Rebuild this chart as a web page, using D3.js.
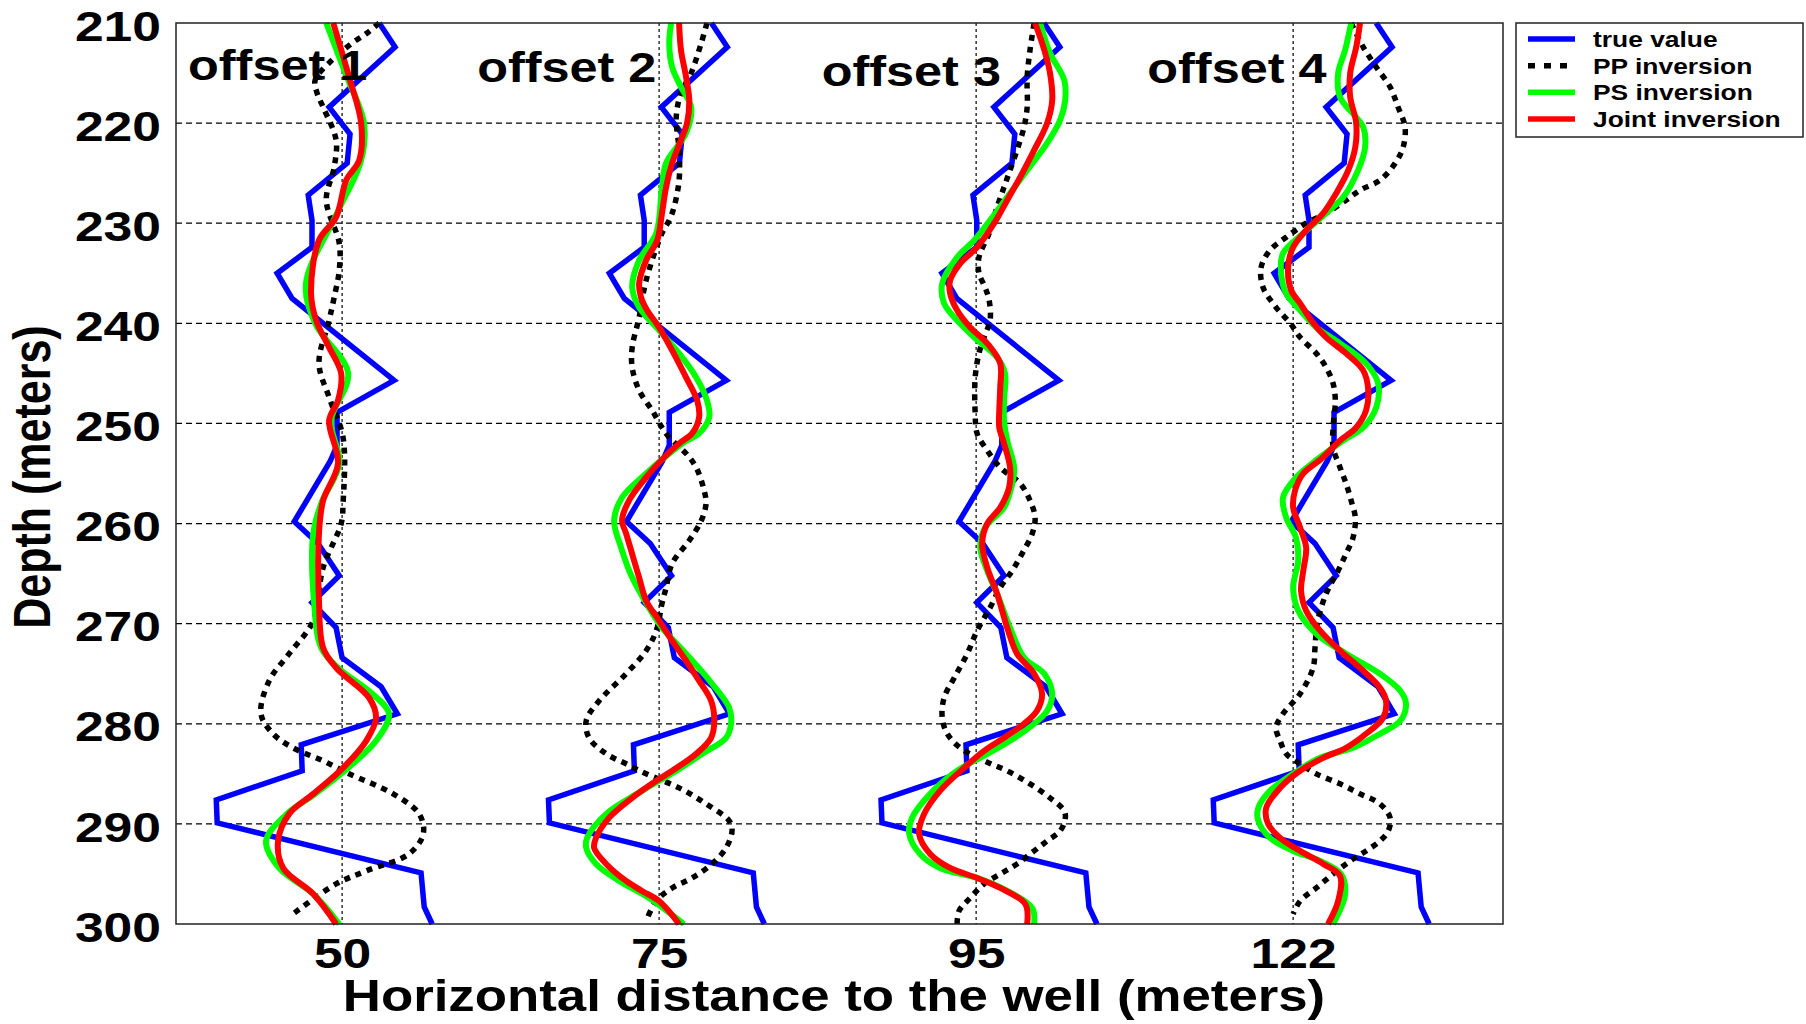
<!DOCTYPE html>
<html>
<head>
<meta charset="utf-8">
<script src="https://cdn.jsdelivr.net/npm/d3@7"></script>
<style>
  body { margin: 0; background: #fff; }
  text { font-family: "Liberation Sans", Arial, sans-serif; font-weight: bold; fill: #000; }
</style>
</head>
<body>
<div id="chart"></div>
<script>
// depth ticks (m) and offset positions along the x axis
const depthTicks = [210, 220, 230, 240, 250, 260, 270, 280, 290, 300];
const offsetPos = [0, 100, 200, 300];
const offsetLabels = ["50", "75", "95", "122"];
const offsetNames = ["offset 1", "offset 2", "offset 3", "offset 4"];

// true value log [depth, deviation], same log drawn at every offset with a shift
const trueValue = [
  [210, 11.7], [212.4, 16.7], [218.4, -4.1], [221.1, 2.5], [224, 1.6], [227.2, -10.7],
  [229.7, -9.5], [232.4, -9.5], [235, -20.5], [237.5, -15.8], [245.7, 16.4], [248.9, -1.6],
  [252.2, -1.6], [253.8, -3.8], [259.8, -15.1], [262, -7.6], [265.2, -0.9], [267.9, -9.5],
  [270.4, -1.9], [273.4, 0], [276.3, 12.3], [279, 17.4], [282.1, -12.9], [284.7, -12.6],
  [287.6, -39.7], [289.9, -39.4], [294.9, 24.9], [298.3, 25.9], [300, 28.4]
];
const trueShift = [0, 4.8, 9.7, 14.5];

const ppInversion = [
  [[210,11.7],[211,7.9],[212,3.2],[213.5,-2.5],[215.7,-8.5],[217,-7.9],[218.4,-6.0],[221.7,-1.9],[224.4,-2.5],[227.7,-5.0],[232,-0.9],[234.7,-0.9],[237.4,-2.5],[239.7,-4.1],[244,-7.3],[247.4,-4.1],[251.4,0.3],[258,0.3],[260,-0.3],[264.4,-6.0],[269.7,-9.1],[273,-16.7],[275.7,-23.0],[279,-25.6],[281,-21.8],[282.4,-15.5],[283.7,-6.0],[285,2.2],[287,16.1],[289,24.3],[291,25.6],[293,21.1],[294.7,7.6],[296,-1.9],[299,-15.5]],
  [[210,15.1],[212,13.3],[215,10.1],[217,6.9],[219.4,5.4],[222.7,6.3],[225.7,6.3],[228.4,4.7],[229.7,3.2],[231,0.9],[235.7,-4.1],[239.4,-6.3],[242.4,-8.5],[244.4,-8.5],[246.7,-6.3],[248.7,-2.2],[250.4,0.9],[251.4,3.2],[253,8.5],[254.4,11.7],[256.7,14.2],[258,14.8],[259.7,13.3],[261.7,9.5],[264,4.1],[266.4,2.2],[268,0.9],[270.7,-0.9],[272.7,-4.1],[275,-10.4],[277.7,-18.9],[279.7,-23.0],[281.4,-22.1],[283,-16.7],[284,-10.4],[285,-4.1],[286.4,6.3],[288,14.8],[289.7,22.1],[290.7,23.0],[292.4,21.1],[294,16.7],[295.4,10.4],[296.4,4.1],[297.7,-0.9],[299.7,-4.1]],
  [[210,18.3],[212.7,17.0],[215.4,16.1],[218.4,16.1],[220.4,15.1],[222.7,12.9],[224.7,10.7],[226.4,8.8],[228.4,6.6],[231,4.1],[233.4,0.9],[235,0.9],[236.4,2.8],[237.7,4.1],[239.7,4.4],[241.4,2.5],[243,0.9],[245.4,-0.3],[249,-0.3],[251,0.3],[252.7,3.5],[254.4,7.6],[256,13.9],[257.7,17.0],[259.4,18.6],[261,17.7],[263,14.5],[264.7,11.4],[266.4,7.6],[268.4,4.4],[270.7,0.3],[273,-2.8],[275.4,-6.9],[277.4,-10.1],[279.4,-10.7],[281,-9.1],[282.4,-5.0],[283.7,2.5],[284.7,9.8],[286,17.0],[287.4,23.3],[288.7,27.8],[289.5,28.1],[290.7,26.5],[291.7,22.4],[292.7,18.3],[294,12.9],[295,7.6],[296,2.5],[297.4,-1.9],[298.7,-5.4],[300,-6.0]],
  [[210,18.3],[212.4,22.1],[214.4,26.2],[216.4,30.6],[218.4,33.1],[220.4,35.3],[222.4,34.7],[224,32.2],[225.7,27.4],[226.7,21.1],[227.7,16.7],[229,10.4],[230,4.1],[231.4,-2.2],[232.7,-7.3],[234.4,-10.1],[236.4,-9.5],[238.4,-5.4],[240,-0.9],[241.4,2.2],[243,7.3],[244.4,10.4],[246,12.6],[247.7,13.3],[250.4,12.6],[252.4,12.6],[254.4,14.8],[256,16.7],[257.7,18.3],[259.4,19.6],[261.4,18.9],[263,16.7],[264.7,14.2],[267,10.4],[270,7.6],[272.4,6.9],[274.4,6.3],[277,2.2],[279,-3.2],[280.4,-5.4],[281.7,-4.1],[283,-2.2],[284,2.2],[285,7.3],[286,14.8],[287,21.1],[288,27.4],[289.4,30.6],[290.7,30.0],[291.7,27.4],[292.7,23.0],[293.7,18.0],[295,12.6],[296.4,7.3],[297.7,2.2],[299,0]]
];

const psInversion = [
  [[210,-5.0],[215,1.0],[220,6.9],[223.7,6.0],[229,-1.6],[236,-11.4],[240,-8.5],[245,1.9],[249.7,-3.5],[254,-0.9],[258,-6.6],[261,-9.1],[268,-8.8],[272.4,-6.6],[274.4,-1.3],[277,9.5],[279,14.8],[281.7,10.7],[284.4,1.9],[287,-8.5],[289,-17.4],[291.7,-24.0],[294.4,-19.9],[297,-9.1],[300,-0.9]],
  [[210,3.8],[212,3.2],[214.4,4.1],[216.4,6.9],[218.4,10.1],[221,8.5],[224,2.2],[226.4,0.9],[231,-0.9],[233.7,-6.3],[236.4,-8.5],[238.4,-6.3],[240.7,0],[243,6.3],[245.4,11.7],[247.7,15.1],[249.4,15.8],[251,12.6],[252,7.3],[255,-4.1],[257.4,-11.7],[259.7,-14.2],[262.4,-12.0],[265.4,-8.5],[268.4,-3.2],[270.4,0.9],[273,8.5],[276,16.7],[278.4,22.1],[280,22.7],[281.4,21.1],[283,13.6],[284.7,5.4],[286.7,-5.4],[289,-16.7],[291.4,-22.7],[292.4,-23.0],[294,-19.9],[295.7,-12.6],[297.4,-3.2],[300,7.8]],
  [[210,20.2],[213,23.3],[215.7,27.8],[217.7,28.1],[219.7,26.5],[222,22.4],[224.7,16.1],[227,10.7],[229.7,4.4],[231.7,-0.6],[233.4,-6.0],[236,-10.7],[238,-10.1],[239.7,-6.0],[241.4,-0.6],[243.4,6.6],[245,9.1],[247.7,8.8],[249.7,8.8],[251.7,9.8],[254.4,12.0],[256,11.4],[258.4,8.8],[260.4,2.8],[262.4,1.3],[264.7,3.5],[267,6.6],[270.4,10.7],[273.4,15.1],[275,21.5],[277,24.0],[278.7,22.4],[280,18.3],[281.7,10.7],[283,3.5],[284.7,-6.0],[287,-14.5],[289.4,-20.2],[291,-21.1],[293,-17.7],[294.4,-11.4],[295.4,0.3],[296.7,9.8],[298.4,17.7],[300,18.3]],
  [[210,18.3],[212.7,16.4],[215,14.2],[217.4,14.8],[220.4,22.1],[222.4,22.7],[224.7,20.5],[227.4,15.8],[229,10.4],[231,3.2],[233,-3.2],[235,-3.8],[237,-2.2],[238.7,2.2],[240.4,7.3],[242,14.8],[244,23.0],[246,26.8],[248.4,26.2],[250.4,22.1],[251.7,15.8],[253.5,8.0],[255.4,0.9],[257.4,-3.2],[259.4,-2.2],[261.4,0.9],[263.7,1.6],[266.4,0],[268.7,1.6],[271,7.3],[273,16.7],[275,27.4],[276.7,33.8],[278,35.6],[279.7,33.8],[281,27.4],[282.4,18.9],[283.4,8.5],[285,0],[286.7,-7.3],[288.4,-11.0],[289.7,-11.0],[291.4,-7.3],[292.7,0],[293.7,8.5],[295,15.1],[297,16.4],[300,12.6]]
];

const jointInversion = [
  [[210,-2.8],[215.4,2.2],[220,6.0],[223.7,5.4],[225.7,1.3],[229.4,-1.9],[231.7,-7.3],[237,-9.8],[239.7,-8.2],[242.4,-4.1],[245,-0.3],[247.7,-1.3],[249.7,-4.1],[254,-1.3],[257.7,-6.0],[261,-7.3],[267.7,-7.3],[272.4,-6.0],[274.4,-1.9],[277.4,8.5],[279.4,10.7],[281.7,7.6],[284.4,0.3],[287,-9.1],[289,-16.7],[291.7,-20.2],[294.4,-18.6],[297,-9.1],[300,-1.9]],
  [[210,6.3],[212.7,6.9],[215.4,8.5],[217.7,9.5],[220,8.8],[221.7,6.9],[224,4.1],[226.4,2.2],[229,0.9],[231.7,-0.6],[233.7,-4.1],[236,-6.3],[237.4,-5.7],[238.7,-3.8],[240.4,0],[242.7,4.1],[245.4,8.5],[247.7,12.0],[249.4,12.6],[251,10.4],[252,6.3],[253.5,1.2],[255.5,-4.4],[257.7,-9.5],[259.7,-11.7],[261,-10.4],[263.7,-7.9],[265.4,-6.3],[267.7,-4.1],[269.7,0],[271.7,4.1],[273.7,8.5],[275.7,12.6],[277.7,16.4],[279.7,17.4],[281.4,16.4],[283,11.7],[284.7,4.1],[285.7,-0.9],[287.4,-8.5],[289.4,-15.8],[291.4,-19.9],[292.4,-20.5],[294,-16.7],[295.7,-10.4],[296.7,-5.4],[297.7,0],[300,6.3]],
  [[210,18.6],[212.7,21.5],[215,23.3],[217.7,24.0],[220,22.4],[222.7,18.3],[225.4,13.9],[227.7,9.8],[230,5.7],[232.4,0.3],[234,-5.0],[235.7,-8.2],[237,-8.2],[238.7,-6.0],[240.4,-1.9],[242,3.5],[244,7.6],[246.4,7.6],[248.7,7.3],[250.4,7.3],[252,8.8],[254.4,10.7],[256.4,10.4],[258.4,7.6],[260,3.5],[262,1.9],[264.4,3.5],[267,6.6],[270.4,9.8],[273,12.9],[275,18.3],[277,20.8],[278.7,19.2],[280,15.1],[281.4,8.8],[282.7,2.5],[284.4,-3.8],[286.7,-11.4],[289,-16.4],[291,-18.0],[293,-14.5],[294.4,-8.2],[295.4,0.3],[296.4,7.6],[298,15.5],[300,16.1]],
  [[210,21.1],[212.4,19.9],[215,18.0],[217.4,18.0],[220,19.9],[222.4,19.6],[224.7,17.4],[227,13.6],[229,9.5],[230.7,4.1],[232.4,0],[234.4,-1.6],[236.7,-0.6],[238,2.2],[239.7,5.7],[241.4,10.4],[243,16.7],[244.7,22.1],[246.7,23.7],[248.7,23.0],[250.4,19.9],[251.7,14.8],[253.5,9.0],[255,3.2],[256.7,0.6],[258.4,0],[260.4,2.2],[262.4,4.1],[264.7,3.2],[266.7,2.5],[268.7,4.1],[270.7,8.5],[272.7,14.8],[274.7,22.1],[276.4,27.4],[277.7,29.3],[279.4,28.4],[281,23.0],[282.4,16.7],[283.4,9.5],[284.7,2.2],[286.4,-4.1],[288.4,-8.5],[290,-7.9],[291.4,-4.1],[292.7,2.2],[294,9.5],[295.2,14.8],[297.7,14.2],[300,11.0]]
];

const seriesNames = ["true value", "PP inversion", "PS inversion", "Joint inversion"];

// layout
const W = 1806, H = 1024;
const margin = { top: 23, right: 303, bottom: 100, left: 176 };
const width = W - margin.left - margin.right;
const height = H - margin.top - margin.bottom;
const sx = 1.2; // text in the picture is drawn wide

const svg = d3.select("#chart").append("svg")
  .attr("width", W).attr("height", H);
const g = svg.append("g")
  .attr("transform", "translate(" + margin.left + "," + margin.top + ")");

const x = d3.scaleLinear().domain([-52.4, 366.2]).range([0, width]);
const y = d3.scaleLinear().domain([210, 300]).range([0, height]);

// grid
g.selectAll(".hgrid")
  .data(depthTicks.slice(1, -1))
  .enter().append("line")
  .attr("x1", 0).attr("x2", width)
  .attr("y1", d => y(d)).attr("y2", d => y(d))
  .attr("stroke", "#000").attr("stroke-width", 1.2)
  .attr("stroke-dasharray", "6,4");

g.selectAll(".vgrid")
  .data(offsetPos)
  .enter().append("line")
  .attr("x1", d => x(d)).attr("x2", d => x(d))
  .attr("y1", 0).attr("y2", height)
  .attr("stroke", "#000").attr("stroke-width", 1.2)
  .attr("stroke-dasharray", "3,3");

// axes
const yAxis = g.append("g")
  .call(d3.axisLeft(y).tickValues(depthTicks).tickSize(0).tickPadding(12.5));
yAxis.select(".domain").remove();
yAxis.selectAll("text")
  .style("font-size", "43px")
  .style("font-family", "'Liberation Sans', Arial, sans-serif")
  .style("font-weight", "bold")
  .attr("dy", "0.4em")
  .attr("transform", "scale(" + sx + ",1)");

const xAxis = g.append("g")
  .attr("transform", "translate(0," + height + ")")
  .call(d3.axisBottom(x).tickValues(offsetPos).tickFormat((d, i) => offsetLabels[i])
    .tickSize(0).tickPadding(13));
xAxis.select(".domain").remove();
xAxis.selectAll("text")
  .style("font-size", "43px")
  .style("font-family", "'Liberation Sans', Arial, sans-serif")
  .style("font-weight", "bold")
  .attr("transform", "scale(" + sx + ",1)");

// curves
const curveLine = (k, curve) => d3.line()
  .x(d => x(offsetPos[k] + d[1]))
  .y(d => y(d[0]))
  .curve(curve);

offsetPos.forEach((p, k) => {
  const shifted = trueValue.map(d => [d[0], d[1] + trueShift[k]]);
  g.append("path").datum(shifted)
    .attr("d", curveLine(k, d3.curveLinear))
    .attr("fill", "none").attr("stroke", "#0000ff")
    .attr("stroke-width", 5.5).attr("stroke-linejoin", "miter");

  g.append("path").datum(ppInversion[k])
    .attr("d", curveLine(k, d3.curveCatmullRom))
    .attr("fill", "none").attr("stroke", "#000")
    .attr("stroke-width", 5.5).attr("stroke-dasharray", "6,6");

  g.append("path").datum(psInversion[k])
    .attr("d", curveLine(k, d3.curveCatmullRom))
    .attr("fill", "none").attr("stroke", "#00ff00")
    .attr("stroke-width", 6);

  g.append("path").datum(jointInversion[k])
    .attr("d", curveLine(k, d3.curveCatmullRom))
    .attr("fill", "none").attr("stroke", "#ff0000")
    .attr("stroke-width", 6);
});

// offset labels [x, depth of baseline]
const offsetLabelPos = [[-48.6, 215.7], [42.6, 215.9], [151.3, 216.3], [254.0, 216.0]];
g.selectAll(".offlabel")
  .data(offsetNames)
  .enter().append("text")
  .attr("transform", (d, i) => "translate(" + x(offsetLabelPos[i][0]) + "," + y(offsetLabelPos[i][1]) + ") scale(" + sx + ",1)")
  .style("font-size", "42px")
  .text(d => d);

// frame
g.append("rect")
  .attr("width", width).attr("height", height)
  .attr("fill", "none").attr("stroke", "#222").attr("stroke-width", 1.5);

// axis titles
svg.append("text")
  .attr("transform", "translate(834,1011) scale(" + sx + ",1)")
  .attr("text-anchor", "middle")
  .style("font-size", "44px")
  .text("Horizontal distance to the well (meters)");

svg.append("text")
  .attr("transform", "translate(50,477) scale(" + sx + ",1) rotate(-90)")
  .attr("text-anchor", "middle")
  .style("font-size", "43px")
  .text("Depth (meters)");

// legend
const legend = svg.append("g").attr("transform", "translate(1516,23)");
legend.append("rect")
  .attr("width", 287).attr("height", 114)
  .attr("fill", "#fff").attr("stroke", "#222").attr("stroke-width", 1.5);

const legendColors = ["#0000ff", "#000", "#00ff00", "#ff0000"];
const legendDash = [null, "7,9", null, null];
const rowY = d3.scaleLinear().domain([0, 3]).range([16, 96]);

legend.selectAll(".lline")
  .data(seriesNames)
  .enter().append("line")
  .attr("x1", 12).attr("x2", 59)
  .attr("y1", (d, i) => rowY(i)).attr("y2", (d, i) => rowY(i))
  .attr("stroke", (d, i) => legendColors[i])
  .attr("stroke-width", 5.5)
  .attr("stroke-dasharray", (d, i) => legendDash[i]);

legend.selectAll(".ltext")
  .data(seriesNames)
  .enter().append("text")
  .attr("transform", (d, i) => "translate(77," + rowY(i) + ") scale(" + sx + ",1)")
  .attr("dy", "0.36em")
  .style("font-size", "22px")
  .text(d => d);
</script>
</body>
</html>
